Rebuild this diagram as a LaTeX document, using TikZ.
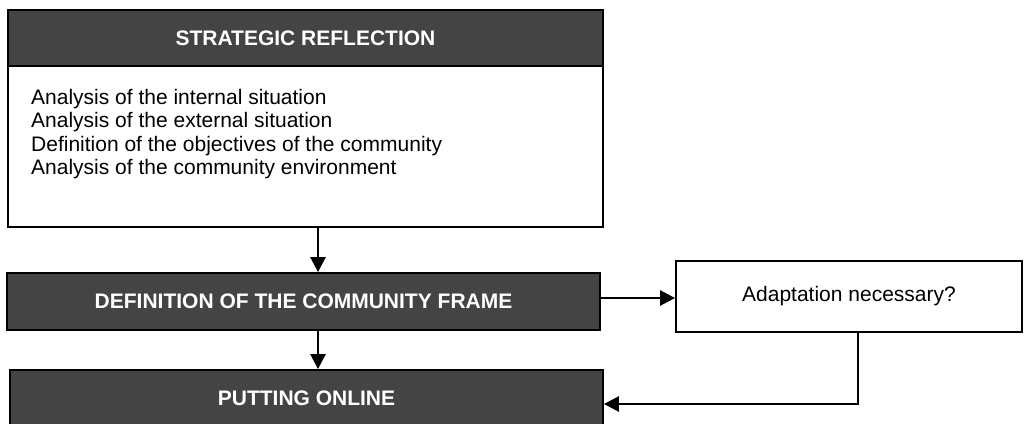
\documentclass[tikz,border=0pt]{standalone}
\usepackage{fontspec}
\setmainfont{Liberation Sans}
\usetikzlibrary{arrows.meta}
\definecolor{frdark}{HTML}{444444}

\begin{document}
\begin{tikzpicture}[x=1pt, y=-1pt,
  darkbox/.style={draw=black, line width=1.8pt, fill=frdark, text=white, font=\fontsize{21}{24}\selectfont\bfseries, inner sep=0pt},
  whitebox/.style={draw=black, line width=1.8pt, fill=white, inner sep=0pt, font=\fontsize{21}{24}\selectfont},
  flow/.style={line width=2.6pt, -{Triangle[length=15pt, width=15pt]}}]
  \useasboundingbox (0,0) rectangle (1024,423);
  % left column
  \node[darkbox, minimum width=595pt, minimum height=56pt] (reflect) at (305.5,38) {STRATEGIC REFLECTION};
  \node[whitebox, minimum width=595pt, minimum height=161pt] (tasks) at (305.5,146.5) {};
  \node[anchor=north west, inner sep=0pt, align=left, font=\fontsize{21}{23.4}\selectfont] (tasklist) at (31,89) {Analysis of the internal situation\\Analysis of the external situation\\Definition of the objectives of the community\\Analysis of the community environment};
  \node[darkbox, minimum width=593pt, minimum height=57pt] (frame) at (303.5,301.5) {DEFINITION OF THE COMMUNITY FRAME};
  \node[darkbox, minimum width=593pt, minimum height=57pt] (online) at (306.5,398.5) {PUTTING ONLINE};
  % right column
  \node[whitebox, minimum width=346pt, minimum height=71pt] (adapt) at (849,296.5) {\raisebox{3pt}{Adaptation necessary?}};
  % connectors
  \draw[flow] ([xshift=12.5pt]tasks.south) -- ([xshift=12.5pt]tasks.south |- frame.north);
  \draw[flow] ([xshift=14.5pt]frame.south) -- ([xshift=14.5pt]frame.south |- online.north);
  \draw[flow] ([yshift=3.5pt]frame.east) -- ([yshift=3.5pt]frame.east -| adapt.west);
  \draw[flow] ([xshift=9pt]adapt.south) |- ([yshift=-5.5pt]online.east);
\end{tikzpicture}
\end{document}
